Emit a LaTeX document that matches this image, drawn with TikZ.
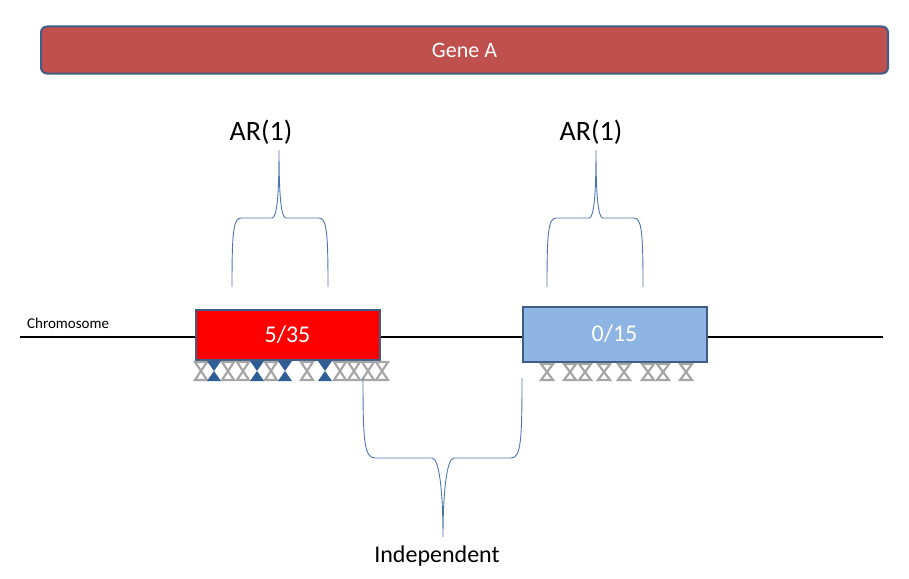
\documentclass[tikz,border=0pt]{standalone}
\usepackage{fontspec}
\setmainfont{Carlito}
\definecolor{genefill}{HTML}{C0504D}
\definecolor{boxedge}{HTML}{3E5E86}
\definecolor{lightblue}{HTML}{8EB4E3}
\definecolor{bracecol}{HTML}{4F74B0}
\definecolor{markgray}{HTML}{A6A6A6}
\definecolor{markblue}{HTML}{2F5D95}
\begin{document}
\begin{tikzpicture}[x=1pt,y=-1pt,
  genebar/.style={draw=boxedge,line width=2pt,fill=genefill,rounded corners=6pt,minimum width=847pt,minimum height=47pt,inner sep=0pt,text=white,font=\fontsize{22}{26}\selectfont},
  exonbox/.style={draw=boxedge,line width=2pt,minimum width=184pt,inner sep=0pt,text=white,font=\fontsize{24}{28}\selectfont},
  lbl/.style={inner sep=0pt,font=\fontsize{24}{28}\selectfont},
  bracepath/.style={draw=bracecol,line width=0.9pt},
  chrline/.style={line width=2.6pt,black},
  gmark/.style={draw=markgray,fill=white,line width=2.2pt,line join=miter},
  bmark/.style={fill=markblue}
]
\useasboundingbox (0,0) rectangle (909,578);
% Gene bar
\node[genebar] (gene) at (464.5,50) {Gene A};
% Chromosome line
\coordinate (chrL) at (20,337);
\coordinate (chrR) at (883,337);
\draw[chrline] (chrL) -- (chrR);
\node[inner sep=0pt,anchor=west,font=\fontsize{15}{18}\selectfont] (chrlabel) at (27,323) {Chromosome};
% Exon boxes
\node[exonbox,fill=red,minimum height=50pt] (exon1) at (287.5,334.5) {5/35};
\node[exonbox,fill=lightblue,minimum height=55pt] (exon2) at (614.5,334) {0/15};
% marks under exon 1
\foreach \x in {201,228,243,271,307,340,354,368,382}{
  \draw[gmark] (\x-6,362) -- (\x+6,362) -- (\x,371) -- cycle (\x,371) -- (\x+6,380) -- (\x-6,380) -- cycle;
}
\foreach \x in {214,257,285,325}{
  \fill[bmark] (\x-7,361) -- (\x+7,361) -- (\x,371) -- cycle (\x,371) -- (\x+7,381) -- (\x-7,381) -- cycle;
}
% marks under exon 2
\foreach \x in {547,570,585,604,624,648,663,686}{
  \draw[gmark] (\x-6,364) -- (\x+6,364) -- (\x,372) -- cycle (\x,372) -- (\x+6,380) -- (\x-6,380) -- cycle;
}
% Labels
\node[lbl,font=\fontsize{28}{32}\selectfont] (ar1) at (261,132) {AR(1)};
\node[lbl,font=\fontsize{28}{32}\selectfont] (ar2) at (591,132) {AR(1)};
\node[lbl] (indep) at (437,556) {Independent};
% brace coordinates
\coordinate (b1tip) at (279,150);
\coordinate (b2tip) at (596,150);
\coordinate (b3tip) at (443,537);
% Upper left brace
\draw[bracepath] (232,287) .. controls (232,235) and (233,218) .. (241,218) -- (272,218)
  .. controls (277,218) and (279,195) .. (b1tip)
  .. controls (279,195) and (281,218) .. (286,218) -- (319,218)
  .. controls (327,218) and (328,235) .. (328,287);
% Upper right brace
\draw[bracepath] (547,287) .. controls (547,235) and (548,218) .. (556,218) -- (589,218)
  .. controls (594,218) and (596,195) .. (b2tip)
  .. controls (596,195) and (598,218) .. (603,218) -- (634,218)
  .. controls (642,218) and (643,235) .. (643,287);
% Lower brace
\draw[bracepath] (363,378) .. controls (363,440) and (364,458) .. (375,458) -- (432,458)
  .. controls (439,458) and (443,490) .. (b3tip)
  .. controls (443,490) and (447,458) .. (454,458) -- (511,458)
  .. controls (521,458) and (522,440) .. (522,378);
\end{tikzpicture}
\end{document}
